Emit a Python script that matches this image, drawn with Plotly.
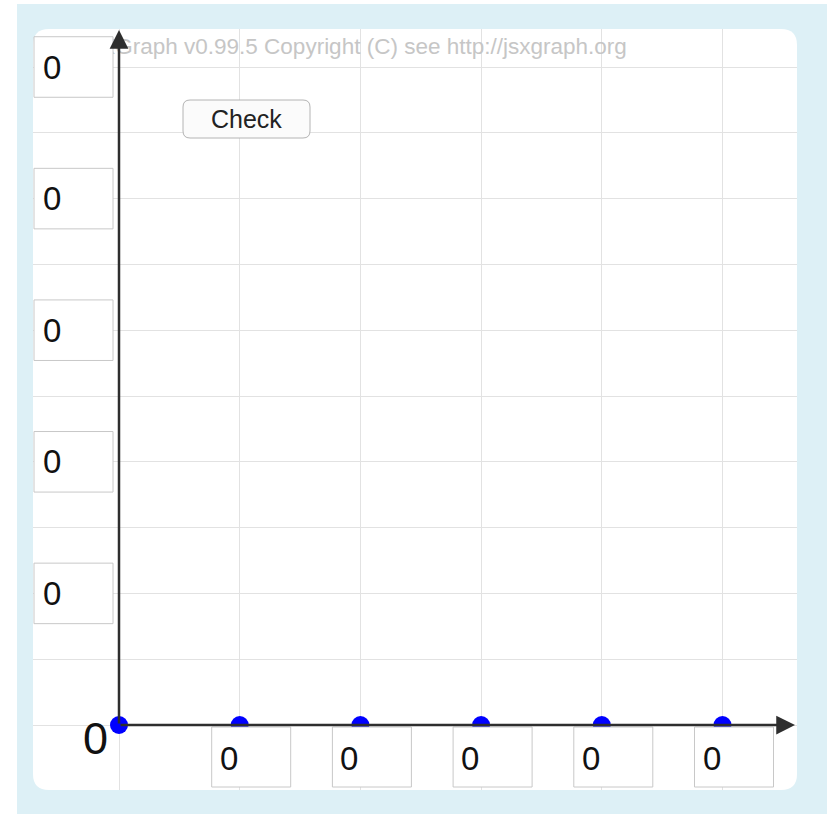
import plotly.graph_objects as go

# ----------------------------------
# DATA
# ----------------------------------

point_x = [0, 1, 2, 3, 4, 5]
point_y = [0, 0, 0, 0, 0, 0]

x_input_pos = [1, 2, 3, 4, 5]
x_input_values = ["0", "0", "0", "0", "0"]

y_input_pos = [10, 8, 6, 4, 2]
y_input_values = ["0", "0", "0", "0", "0"]

origin_label = "0"
copyright_text = "JSXGraph v0.99.5 Copyright (C) see http://jsxgraph.org"
button_text = "Check"

# ----------------------------------
# BOARD GEOMETRY (pixels)
# ----------------------------------

W, H = 827, 814
ORIGIN_X, ORIGIN_Y = 119, 725
UNIT_X, UNIT_Y = 120.7, 65.8
P_LEFT, P_TOP, P_RIGHT, P_BOTTOM = 33, 29, 797, 790

FONT = "Liberation Sans, Arial, Helvetica, sans-serif"


def bx(px):
    return (px - ORIGIN_X) / UNIT_X


def by(py):
    return (ORIGIN_Y - py) / UNIT_Y


def paper_x(px):
    return (px - P_LEFT) / (P_RIGHT - P_LEFT)


def paper_y(py):
    return (P_BOTTOM - py) / (P_BOTTOM - P_TOP)


def rounded_path(x0, y0, x1, y1, r, fx, fy):
    return (
        f"M {fx(x0 + r)},{fy(y0)} L {fx(x1 - r)},{fy(y0)} "
        f"Q {fx(x1)},{fy(y0)} {fx(x1)},{fy(y0 + r)} "
        f"L {fx(x1)},{fy(y1 - r)} Q {fx(x1)},{fy(y1)} {fx(x1 - r)},{fy(y1)} "
        f"L {fx(x0 + r)},{fy(y1)} Q {fx(x0)},{fy(y1)} {fx(x0)},{fy(y1 - r)} "
        f"L {fx(x0)},{fy(y0 + r)} Q {fx(x0)},{fy(y0)} {fx(x0 + r)},{fy(y0)} Z"
    )


# ----------------------------------
# FIGURE
# ----------------------------------

fig = go.Figure()

# copyright text (sits under the input boxes)
fig.add_trace(go.Scatter(
    x=[bx(74)], y=[by(48)],
    mode="text",
    text=[copyright_text],
    textposition="middle right",
    textfont=dict(family=FONT, size=22.5, color="#c6c6c6"),
    hoverinfo="skip",
    showlegend=False
))

# glider points
fig.add_trace(go.Scatter(
    x=point_x, y=point_y,
    mode="markers",
    marker=dict(size=18, color="#0000ff", line=dict(width=0)),
    hoverinfo="skip",
    showlegend=False
))

shapes = []

# outer blue frame and white rounded board
shapes.append(dict(
    type="rect", xref="paper", yref="paper", layer="below",
    x0=paper_x(17), x1=paper_x(W), y0=paper_y(H), y1=paper_y(4),
    fillcolor="#ddf0f6", line=dict(width=0)
))
shapes.append(dict(
    type="path", xref="paper", yref="paper", layer="below",
    path=rounded_path(P_LEFT, P_TOP, P_RIGHT, P_BOTTOM, 16, paper_x, paper_y),
    fillcolor="#ffffff", line=dict(width=0)
))

annotations = []

# y input boxes
for pos, val in zip(y_input_pos, y_input_values):
    shapes.append(dict(
        type="rect", xref="x", yref="y", layer="above",
        x0=bx(34), x1=bx(113), y0=pos - 0.46, y1=pos + 0.46,
        fillcolor="#ffffff", line=dict(color="#c8c8c8", width=1)
    ))
    annotations.append(dict(
        x=bx(41), y=pos, xref="x", yref="y", text=val,
        showarrow=False, xanchor="left", yanchor="middle",
        font=dict(family=FONT, size=33, color="#111111")
    ))

# x input boxes
for pos, val in zip(x_input_pos, x_input_values):
    shapes.append(dict(
        type="rect", xref="x", yref="y", layer="above",
        x0=pos - 28 / UNIT_X, x1=pos + 51 / UNIT_X, y0=by(787), y1=by(727),
        fillcolor="#ffffff", line=dict(color="#c8c8c8", width=1)
    ))
    annotations.append(dict(
        x=pos - 22 / UNIT_X, y=by(758), xref="x", yref="y", text=val,
        showarrow=False, xanchor="left", yanchor="middle",
        font=dict(family=FONT, size=33, color="#111111")
    ))

# check button
shapes.append(dict(
    type="path", xref="x", yref="y", layer="above",
    path=rounded_path(183, 100, 310, 138, 7, bx, by),
    fillcolor="#fbfbfb", line=dict(color="#b4b4b4", width=1)
))
annotations.append(dict(
    x=bx(246.5), y=by(119), xref="x", yref="y", text=button_text,
    showarrow=False, xanchor="center", yanchor="middle",
    font=dict(family=FONT, size=25, color="#222222")
))

# origin label
annotations.append(dict(
    x=bx(95), y=by(738), xref="x", yref="y", text=origin_label,
    showarrow=False, xanchor="center", yanchor="middle",
    font=dict(family=FONT, size=45, color="#111111")
))

# axes with arrows
for hx, hy in [(bx(795), 0), (0, by(30))]:
    annotations.append(dict(
        x=hx, y=hy, ax=0, ay=0,
        xref="x", yref="y", axref="x", ayref="y",
        text="", showarrow=True,
        arrowhead=2, arrowsize=1.5, arrowwidth=2.5,
        arrowcolor="#2e2e2e", standoff=0, startstandoff=0
    ))

fig.update_layout(
    width=W, height=H,
    margin=dict(l=P_LEFT, r=W - P_RIGHT, t=P_TOP, b=H - P_BOTTOM),
    paper_bgcolor="#ffffff",
    plot_bgcolor="rgba(0,0,0,0)",
    shapes=shapes,
    annotations=annotations,
    showlegend=False,
    xaxis=dict(
        range=[bx(P_LEFT), bx(P_RIGHT)], dtick=1, tick0=0,
        showgrid=True, gridcolor="#e2e2e2", gridwidth=1,
        zeroline=False, showline=False, showticklabels=False, ticks="",
        fixedrange=True
    ),
    yaxis=dict(
        range=[by(P_BOTTOM), by(P_TOP)], dtick=1, tick0=0,
        showgrid=True, gridcolor="#e2e2e2", gridwidth=1,
        zeroline=False, showline=False, showticklabels=False, ticks="",
        fixedrange=True
    ),
)

# drop the default page margin so the board lines up with the window
fig.write_html(
    "out.html",
    config={"displayModeBar": False},
    post_script="document.body.style.margin = '0';"
)
